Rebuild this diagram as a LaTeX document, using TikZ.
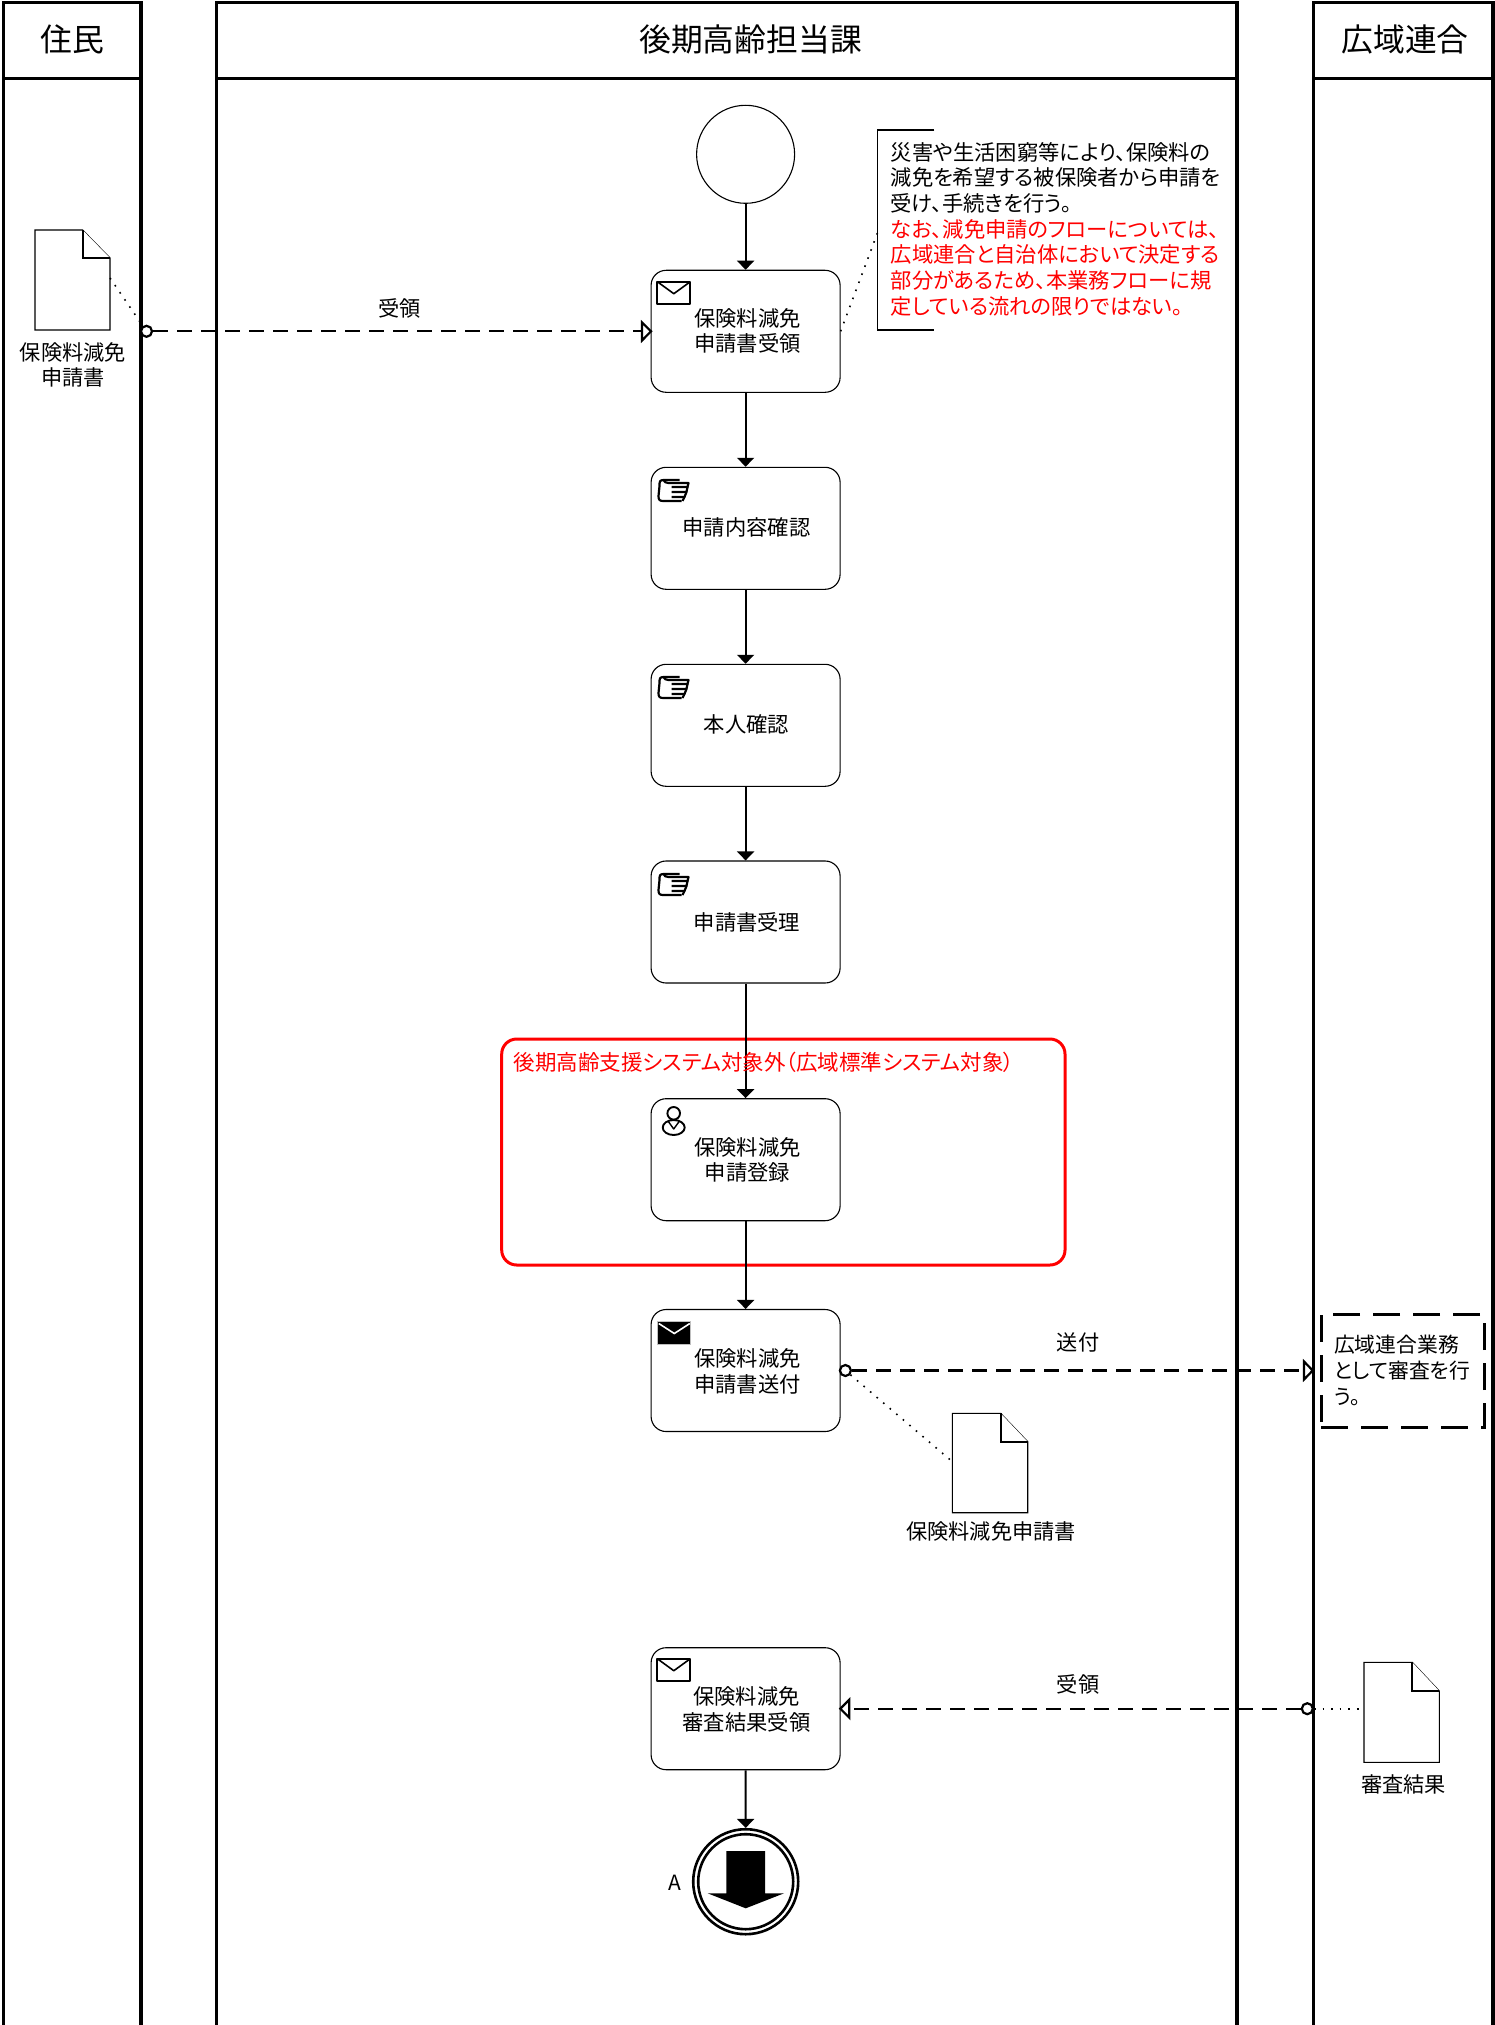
\documentclass[tikz,border=0pt]{standalone}
\usepackage{fontspec}
\setmainfont[RawFeature=+palt]{Noto Sans CJK JP}
\usetikzlibrary{arrows.meta}
\newcommand{\fsl}[2]{\fontsize{#1pt}{#2pt}\selectfont}
\tikzset{
  x=1pt,y=-1pt,
  lanebox/.style={draw=black,line width=3.4pt},
  taskbox/.style={draw=black,fill=white,line width=1.1pt,rounded corners=15pt,minimum width=189pt,minimum height=122pt,inner sep=0pt},
  tasklbl/.style={inner sep=0pt,align=center,font=\fsl{21.3}{25.5}},
  flow/.style={draw=black,line width=2pt,-{Triangle[length=9pt,width=17pt]}},
  msg/.style={draw=black,line width=2.1pt,dash pattern=on 15pt off 9pt,shorten >=10pt},
  dots/.style={draw=black,line width=1.6pt,dash pattern=on 1.6pt off 7pt},
  lbl/.style={inner sep=0pt,font=\fsl{21.2}{25},align=center},
  headlbl/.style={inner sep=0pt,font=\fsl{31.8}{32}},
  docshape/.style={draw=black,line width=1.1pt,fill=white,line join=miter},
  ico/.style={draw=black,line width=2.2pt,line join=round},
  hollow/.style={draw=black,line width=2.2pt,fill=white},
}
% document icon: #1 left, #2 top, #3 right, #4 bottom, #5 fold x, #6 fold y
\newcommand{\docicon}[6]{%
  \draw[docshape] (#1,#2) -- (#5,#2) -- (#3,#6) -- (#3,#4) -- (#1,#4) -- cycle;
  \draw[docshape,line width=1.8pt] (#5,#2) -- (#5,#6) -- (#3,#6);
}
\newcommand{\envicon}[2]{%
  \draw[ico,fill=white] (#1,#2) rectangle ++(33,22);
  \draw[ico,line width=1.6pt] (#1,#2) -- ++(16.5,12) -- ++(16.5,-12);
}
\newcommand{\envblack}[2]{%
  \fill[black!25] (#1-1,#2-1) rectangle ++(34,24);
  \fill[black] (#1,#2) rectangle ++(32,22);
  \draw[draw=white,line width=1.6pt] (#1+0.5,#2+2) -- ++(15.5,10) -- ++(15.5,-10);
}
\newcommand{\handicon}[2]{%
  \begin{scope}[shift={(#1,#2)}]
    \draw[ico] (22,2) -- (6,2) .. controls (2,2) and (2,4) .. (2,8) -- (1,18)
      .. controls (1,22) and (2,23) .. (6,23) -- (24,23);
    \draw[ico] (6,2) .. controls (7,4) and (8,5) .. (11,5) -- (31,5) -- (30,9) -- (14,9);
    \draw[ico] (30,9) -- (29,14) -- (14,14);
    \draw[ico] (29,14) -- (27,19) -- (14,19);
    \draw[ico] (27,19) -- (25,23);
  \end{scope}
}
\begin{document}
\begin{tikzpicture}
\useasboundingbox (0,0) rectangle (1494,2025);
% lanes
\draw[lanebox] (3.5,2035) -- (3.5,2.7) -- (141,2.7) -- (141,2035);
\draw[lanebox] (3.5,78.7) -- (141,78.7);
\draw[lanebox] (216.5,2035) -- (216.5,2.7) -- (1237,2.7) -- (1237,2035);
\draw[lanebox] (216.5,78.7) -- (1237,78.7);
\draw[lanebox] (1313.5,2035) -- (1313.5,2.7) -- (1493,2.7) -- (1493,2035);
\draw[lanebox] (1313.5,78.7) -- (1493,78.7);
\node[headlbl] (h1) at (72.5,39) {住民};
\node[headlbl] (h2) at (750.5,39) {後期高齢担当課};
\node[headlbl] (h3) at (1405,39) {広域連合};
% red group
\draw[draw=red,line width=3pt,rounded corners=15pt] (501.7,1039) rectangle (1065,1265);
% events and tasks
\node[draw=black,line width=1.1pt,circle,minimum size=98pt,inner sep=0pt] (start) at (745.6,154.3) {};
\node[taskbox] (t1) at (745.6,331.3) {};
\node[taskbox] (t2) at (745.6,528.3) {};
\node[taskbox] (t3) at (745.6,725.3) {};
\node[taskbox] (t4) at (745.6,922) {};
\node[taskbox] (t5) at (745.6,1159.7) {};
\node[taskbox] (t6) at (745.6,1370.5) {};
\node[taskbox] (t7) at (745.6,1708.7) {};
\node[tasklbl] (t1l) at (747.5,331) {保険料減免\\申請書受領};
\node[tasklbl] (t2l) at (746.5,527) {申請内容確認};
\node[tasklbl] (t3l) at (746.5,724.5) {本人確認};
\node[tasklbl] (t4l) at (747,922) {申請書受理};
\node[tasklbl] (t5l) at (747.5,1159.7) {保険料減免\\申請登録};
\node[tasklbl] (t6l) at (747.5,1371.5) {保険料減免\\申請書送付};
\node[tasklbl] (t7l) at (746.5,1709.5) {保険料減免\\審査結果受領};
\node[draw=black,line width=2.6pt,circle,minimum size=105pt,inner sep=0pt] (endo) at (745.7,1881.7) {};
\node[draw=black,line width=2.6pt,circle,minimum size=95pt,inner sep=0pt] (endi) at (745.7,1881.7) {};
\fill[black] (726.3,1851) -- (765,1851) -- (765,1893.3) -- (784,1893.3) -- (745.7,1908.3) -- (707.7,1893.3) -- (726.3,1893.3) -- cycle;
\node[inner sep=0pt,font=\fsl{21}{25}] (alabel) at (674.5,1883) {A};
% sequence flows
\draw[flow] (start) -- (t1);
\draw[flow] (t1) -- (t2);
\draw[flow] (t2) -- (t3);
\draw[flow] (t3) -- (t4);
\draw[flow] (t4) -- (t5);
\draw[flow] (t5) -- (t6);
\draw[flow] (t7) -- (endo);
% red label over the flow
\node[inner sep=0pt,anchor=west,text=red,font=\fsl{21.5}{25}] (redlbl) at (513.6,1062) {後期高齢支援システム対象外（広域標準システム対象）};
% task icons
\envicon{657.3}{281.7}
\handicon{657.5}{478}
\handicon{657.5}{675}
\handicon{657.5}{872}
\begin{scope}
  \draw[ico,line width=1.9pt] (673.7,1113.3) circle (6.3);
  \draw[ico,line width=1.9pt] (673.7,1127.5) ellipse (11 and 7.5);
  \draw[ico,line width=1.4pt] (668,1121) -- (673.7,1129) -- (679.5,1121);
\end{scope}
\envblack{658.3}{1321.5}
\envicon{657.3}{1658.7}
% documents
\docicon{35}{230}{110}{330}{82.6}{258}
\node[lbl] (d1l) at (72.8,364.5) {保険料減免\\申請書};
\docicon{952.4}{1413.3}{1027.7}{1512.7}{1000.6}{1441.7}
\node[lbl] (d2l) at (991,1531) {保険料減免申請書};
\docicon{1364}{1662.3}{1439.3}{1762.3}{1412.3}{1691}
\node[lbl] (d3l) at (1403.5,1784) {審査結果};
% note
\coordinate (ntl) at (934.4,130);
\coordinate (nbl) at (934.4,330);
\draw[black,line width=1.1pt] (ntl) -- (877.8,130) -- (877.8,330) -- (nbl);
\coordinate (nw) at (877.8,232);
\node[inner sep=0pt,anchor=north west,align=left,font=\fsl{21.3}{25.7}] (note) at (890.5,142) {%
災害や生活困窮等により、保険料の\\
減免を希望する被保険者から申請を\\
受け、手続きを行う。\\
\textcolor{red}{なお、減免申請のフローについては、}\\
\textcolor{red}{広域連合と自治体において決定する}\\
\textcolor{red}{部分があるため、本業務フローに規}\\
\textcolor{red}{定している流れの限りではない。}};
\draw[dots] (t1.east) -- (nw);
% dashed process box
\node[draw=black,line width=3pt,dash pattern=on 27pt off 13pt,minimum width=163pt,minimum height=113pt,inner sep=0pt] (t8) at (1402.5,1370.5) {};
\node[inner sep=0pt,anchor=north west,align=left,font=\fsl{20.8}{26}] (t8l) at (1333.8,1335) {広域連合業務\\として審査を行\\う。};
% message flows
\coordinate (m1s) at (146.5,331.3);
\node[hollow,circle,minimum size=11pt,inner sep=0pt] (c1) at (m1s) {};
\draw[msg] (c1) -- (t1.west);
\draw[hollow,line join=miter] (642,322.5) -- (651,331.3) -- (642,340.5) -- cycle;
\node[hollow,circle,minimum size=11pt,inner sep=0pt] (c2) at (845.4,1370.5) {};
\coordinate (t8in) at (1312.7,1370.5);
\draw[msg] (c2) -- (t8in);
\draw[hollow,line join=miter] (1304,1361.5) -- (1312.7,1370.5) -- (1304,1379.5) -- cycle;
\coordinate (c3c) at (1307.3,1708.7);
\node[hollow,circle,minimum size=11pt,inner sep=0pt] (c3) at (c3c) {};
\draw[msg] (c3) -- (t7.east);
\draw[hollow,line join=miter] (849.3,1699.7) -- (840.3,1708.7) -- (849.3,1717.7) -- cycle;
\coordinate (d1e) at (110,278);
\coordinate (d2w) at (952.4,1461.7);
\coordinate (d3w) at (1364,1708.7);
\draw[dots] (d1e) -- (c1);
\draw[dots] (c2) -- (d2w);
\draw[dots] (c3) -- (d3w);
\node[lbl] (ml1) at (399.5,308) {受領};
\node[lbl] (ml2) at (1078,1342) {送付};
\node[lbl] (ml3) at (1078,1684) {受領};
\end{tikzpicture}
\end{document}
